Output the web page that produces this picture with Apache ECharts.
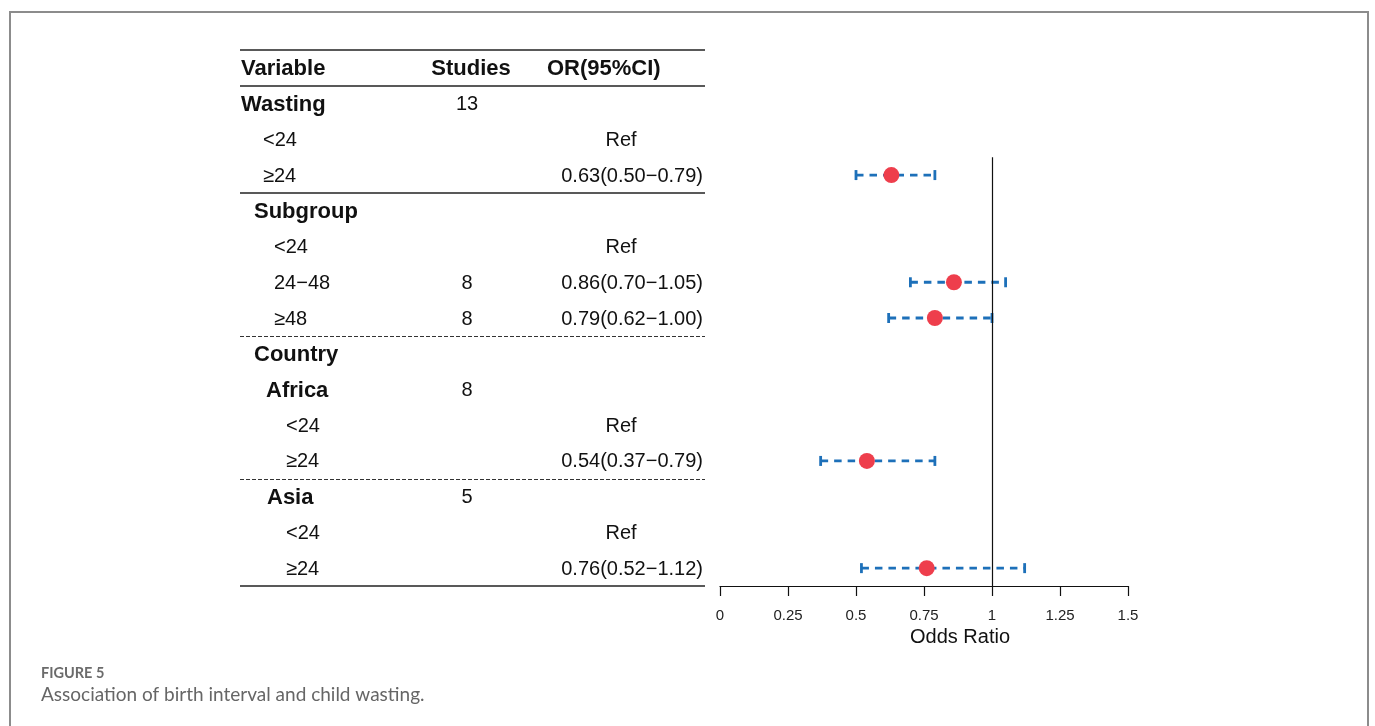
<!DOCTYPE html>
<html>
<head>
<meta charset="utf-8">
<script src="https://cdn.jsdelivr.net/npm/echarts@6/dist/echarts.min.js"></script>
<style>
html, body { margin: 0; padding: 0; background: #fff; }
#forestChart { width: 1375px; height: 726px; }
</style>
</head>
<body>
<div id="forestChart"></div>
<script>
// 表格内容（第 0 行是表头）
const variables = ["Variable", "Wasting", "<24", "≥24", "Subgroup", "<24", "24−48", "≥48", "Country", "Africa", "<24", "≥24", "Asia", "<24", "≥24"];
const boldRows = [true, true, false, false, true, false, false, false, true, true, false, false, true, false, false];
const studies = ["Studies", "13", "", "", "", "", "8", "8", "", "8", "", "", "5", "", ""];
const orText = ["OR(95%CI)", "", "Ref", "0.63(0.50−0.79)", "", "Ref", "0.86(0.70−1.05)", "0.79(0.62−1.00)", "", "", "Ref", "0.54(0.37−0.79)", "", "Ref", "0.76(0.52−1.12)"];

// 森林图数值
const orValue = [null, null, null, 0.63, null, null, 0.86, 0.79, null, null, null, 0.54, null, null, 0.76];
const ciLower = [null, null, null, 0.50, null, null, 0.70, 0.62, null, null, null, 0.37, null, null, 0.52];
const ciUpper = [null, null, null, 0.79, null, null, 1.05, 1.00, null, null, null, 0.79, null, null, 1.12];

// 分隔线所在位置（行边界）
const solidRules = [-0.5, 0.5, 3.5, 14.5];
const dashedRules = [7.5, 11.5];

// 变量列缩进（像素）
const labelIndent = [1, 1, 23, 23, 14, 34, 34, 34, 14, 26, 46, 46, 27, 46, 46];

const FONT = '"Liberation Sans", Arial, sans-serif';
const BLUE = "#1d70b9";
const RED = "#ee3e4c";

const chart = echarts.init(document.getElementById("forestChart"));

const rowCount = variables.length;
const tableData = variables.map((v, i) => [0, i]);
const ciData = [];
const pointData = [];
orValue.forEach((v, i) => {
  if (v === null) return;
  ciData.push([ciLower[i], ciUpper[i], i]);
  pointData.push([v, i]);
});

function textEl(text, x, y, align, bold) {
  return {
    type: "text",
    x: x,
    y: y,
    style: {
      text: text,
      align: align,
      verticalAlign: "middle",
      fontFamily: FONT,
      fontSize: bold ? 22 : 20,
      fontWeight: bold ? "bold" : "normal",
      fill: "#111",
    },
  };
}

const yAxisBase = {
  type: "value",
  inverse: true,
  min: -0.5,
  max: rowCount - 0.5,
  show: false,
};

const option = {
  backgroundColor: "#fff",
  animation: false,
  grid: [
    { left: 240, width: 465, top: 50, bottom: 140 },
    { left: 720, width: 408, top: 50, bottom: 140 },
  ],
  xAxis: [
    { gridIndex: 0, type: "value", min: 0, max: 465, show: false },
    {
      gridIndex: 1,
      type: "value",
      position: "bottom",
      min: 0,
      max: 1.5,
      interval: 0.25,
      name: "Odds Ratio",
      nameLocation: "middle",
      nameGap: 40,
      nameTextStyle: { fontFamily: FONT, fontSize: 20, color: "#111", padding: [0, 0, 0, 72] },
      axisLine: { show: true, onZero: false, lineStyle: { color: "#111", width: 1.2 } },
      axisTick: { show: true, length: 10, lineStyle: { color: "#111", width: 1.2 } },
      axisLabel: { margin: 22, fontFamily: FONT, fontSize: 15, color: "#222" },
      splitLine: { show: false },
    },
  ],
  yAxis: [
    Object.assign({ gridIndex: 0 }, yAxisBase),
    Object.assign({ gridIndex: 1 }, yAxisBase),
  ],
  graphic: [
    {
      type: "rect",
      shape: { x: 10, y: 12, width: 1358, height: 740 },
      style: { fill: null, stroke: "#8c8c8c", lineWidth: 2 },
      silent: true,
    },
    {
      type: "text",
      left: 41,
      top: 666,
      style: { text: "FIGURE 5", fontFamily: "Lato, 'Open Sans', sans-serif", fontSize: 14.5, fontWeight: "bold", fill: "#6b6b6b" },
    },
    {
      type: "text",
      left: 41,
      top: 685,
      style: { text: "Association of birth interval and child wasting.", fontFamily: "Lato, 'Open Sans', sans-serif", fontSize: 19, fill: "#666" },
    },
  ],
  series: [
    {
      // 表格文字
      type: "custom",
      xAxisIndex: 0,
      yAxisIndex: 0,
      data: tableData,
      encode: { x: 0, y: 1 },
      silent: true,
      renderItem: function (params, api) {
        const i = api.value(1);
        const p = api.coord([0, i]);
        const x0 = p[0];
        const y = p[1] + 1;
        const header = i === 0;
        const children = [textEl(variables[i], x0 + labelIndent[i], y, "left", boldRows[i])];
        if (studies[i]) {
          children.push(textEl(studies[i], x0 + (header ? 231 : 227), y, "center", header));
        }
        if (orText[i]) {
          if (header) children.push(textEl(orText[i], x0 + 307, y, "left", true));
          else if (orText[i] === "Ref") children.push(textEl(orText[i], x0 + 381, y, "center", false));
          else children.push(textEl(orText[i], x0 + 463, y, "right", false));
        }
        return { type: "group", children: children };
      },
      markLine: {
        silent: true,
        symbol: "none",
        label: { show: false },
        data: solidRules
          .map((r) => ({ yAxis: r, lineStyle: { type: "solid", color: "#222", width: 1.5 } }))
          .concat(dashedRules.map((r) => ({ yAxis: r, lineStyle: { type: [4, 2], color: "#333", width: 1.2 } }))),
      },
    },
    {
      // 置信区间
      type: "custom",
      xAxisIndex: 1,
      yAxisIndex: 1,
      data: ciData,
      encode: { x: [0, 1], y: 2 },
      silent: true,
      renderItem: function (params, api) {
        const a = api.coord([api.value(0), api.value(2)]);
        const b = api.coord([api.value(1), api.value(2)]);
        const style = { stroke: BLUE, lineWidth: 2.8 };
        return {
          type: "group",
          children: [
            { type: "line", shape: { x1: a[0], y1: a[1], x2: b[0], y2: b[1] }, style: Object.assign({ lineDash: [7.5, 6] }, style) },
            { type: "line", shape: { x1: a[0], y1: a[1] - 5, x2: a[0], y2: a[1] + 5 }, style: style },
            { type: "line", shape: { x1: b[0], y1: b[1] - 5, x2: b[0], y2: b[1] + 5 }, style: style },
          ],
        };
      },
      markLine: {
        silent: true,
        symbol: "none",
        label: { show: false },
        lineStyle: { type: "solid", color: "#111", width: 1.2 },
        data: [[{ coord: [1, 2.5] }, { coord: [1, rowCount - 0.5] }]],
      },
    },
    {
      // OR 点
      type: "scatter",
      xAxisIndex: 1,
      yAxisIndex: 1,
      data: pointData,
      symbol: "circle",
      symbolSize: 16,
      itemStyle: { color: RED, opacity: 1 },
      z: 5,
    },
  ],
};

chart.setOption(option);
</script>
</body>
</html>
